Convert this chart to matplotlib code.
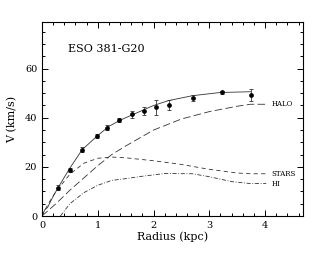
import numpy as np
import matplotlib
matplotlib.use("Agg")
import matplotlib.pyplot as plt
from matplotlib.ticker import MultipleLocator

# observed rotation curve
obs_r = [0.29, 0.50, 0.72, 0.98, 1.16, 1.38, 1.62, 1.82, 2.04, 2.27, 2.71, 3.23, 3.74]
obs_v = [11.6, 18.8, 27.0, 32.5, 36.0, 39.1, 41.4, 42.9, 44.2, 45.1, 48.2, 50.4, 49.2]
obs_err = [1.0, 0.9, 0.9, 0.8, 0.9, 0.9, 1.5, 1.6, 3.0, 2.0, 1.2, 0.6, 2.4]

# total fit
fit_r = [0.0, 0.05, 0.1, 0.2, 0.3, 0.5, 0.72, 1.0, 1.2, 1.4, 1.6, 1.8, 2.0, 2.27, 2.7, 3.2, 3.74]
fit_v = [0.0, 2.5, 3.5, 8.0, 12.0, 19.5, 27.0, 32.8, 36.5, 39.0, 41.0, 43.0, 45.0, 47.0, 49.0, 50.3, 50.6]

# halo component
halo_r = [0.0, 0.25, 0.5, 0.75, 1.0, 1.25, 1.5, 2.0, 2.5, 3.0, 3.5, 3.74, 4.02]
halo_v = [0.0, 5.0, 10.5, 15.5, 20.5, 25.0, 28.5, 35.0, 39.5, 42.5, 44.7, 45.5, 45.5]

# stellar component
stars_r = [0.0, 0.1, 0.25, 0.5, 0.75, 1.0, 1.25, 1.5, 2.0, 2.5, 3.0, 3.5, 3.74, 4.02]
stars_v = [0.0, 4.5, 10.0, 17.0, 21.5, 23.5, 24.0, 23.7, 22.5, 21.0, 19.0, 17.5, 17.2, 17.2]

# HI component
hi_r = [0.33, 0.5, 0.75, 1.0, 1.25, 1.5, 1.8, 2.2, 2.7, 3.0, 3.4, 3.74, 4.02]
hi_v = [0.0, 5.0, 9.5, 12.5, 14.5, 15.2, 16.2, 17.3, 17.2, 16.0, 14.0, 13.2, 13.2]

labels = ["HALO", "STARS", "HI"]
label_v = [45.5, 17.0, 13.0]

plt.rcParams['font.family'] = ['DejaVu Serif']
fig = plt.figure(figsize=(3.27, 2.57), dpi=100)
ax = fig.add_axes([42/327, 1-216/257, (303-42)/327, (216-22)/257])

lc = '#333333'
lw = 0.6
ax.plot(fit_r, fit_v, '-', color=lc, lw=lw)
ax.plot(halo_r, halo_v, color=lc, lw=lw, dashes=(9, 4))
ax.plot(stars_r, stars_v, color=lc, lw=lw, dashes=(5, 4))
ax.plot(hi_r, hi_v, color=lc, lw=lw, dashes=(5, 2, 1, 2))
ax.errorbar(obs_r, obs_v, yerr=obs_err, fmt='o', ms=2.4, color='black',
            ecolor=lc, elinewidth=0.6, capsize=1.5, capthick=0.6)

for lab, v in zip(labels, label_v):
    ax.text(4.12, v, lab, fontsize=5, va='center', ha='left', family='DejaVu Serif')

ax.text(0.47, 68, "ESO 381-G20", fontsize=8, va='center', ha='left')

ax.set_xlim(0, 4.68)
ax.set_ylim(0, 79)
ax.xaxis.set_major_locator(MultipleLocator(1))
ax.xaxis.set_minor_locator(MultipleLocator(0.2))
ax.yaxis.set_major_locator(MultipleLocator(20))
ax.yaxis.set_minor_locator(MultipleLocator(5))
ax.tick_params(which='both', direction='in', top=True, right=True, labelsize=7, width=0.7)
ax.tick_params(which='major', length=4)
ax.tick_params(which='minor', length=2)
for s in ax.spines.values():
    s.set_linewidth(0.8)

ax.set_xlabel("Radius (kpc)", fontsize=8, labelpad=1)
ax.set_ylabel("V (km/s)", fontsize=8, labelpad=5)

fig.savefig("out.png", dpi=100)
